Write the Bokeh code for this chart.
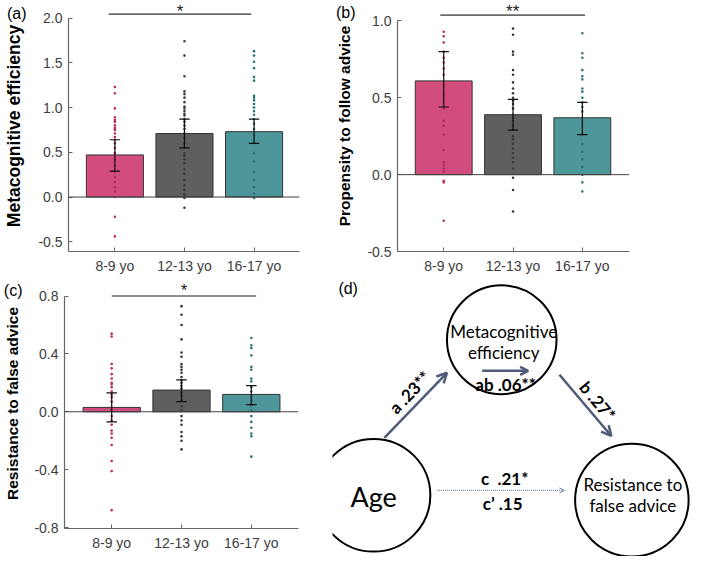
import math
from bokeh.plotting import figure
from bokeh.layouts import row, column
from bokeh.models import (Range1d, FixedTicker, NumeralTickFormatter, Span, Label,
                          Arrow, OpenHead, LinearAxis)
from bokeh.core.properties import value
from bokeh.embed import file_html
from bokeh.resources import INLINE

# ------------------------------------------------------------------ data
categories = ["8-9 yo", "12-13 yo", "16-17 yo"]
bar_colors = ["#d24d7e", "#5f5f5f", "#4d9699"]
dot_colors = ["#b8285e", "#3a3a3a", "#2c7376"]

meta_mean = [0.47, 0.71, 0.73]
meta_lo = [0.29, 0.55, 0.60]
meta_hi = [0.64, 0.87, 0.87]
meta_dots_8_9 = [1.23, 1.16, 0.99, 0.89, 0.86, 0.84, 0.80, 0.77, 0.75, 0.71, 0.67, 0.64,
                 0.60, 0.55, 0.49, 0.42, 0.35, 0.28, 0.22, 0.17, 0.11, 0.06, 0.00, -0.22, -0.44]
meta_dots_12_13 = [1.74, 1.58, 1.35, 1.18, 1.15, 1.11, 1.06, 1.01, 0.99, 0.96, 0.93, 0.91,
                   0.87, 0.84, 0.80, 0.76, 0.71, 0.66, 0.60, 0.55, 0.49, 0.46, 0.42, 0.38,
                   0.31, 0.26, 0.19, 0.13, 0.08, 0.03, -0.01, -0.12]
meta_dots_16_17 = [1.63, 1.58, 1.51, 1.44, 1.34, 1.30, 1.13, 1.11, 1.08, 1.04, 1.00, 0.96,
                   0.92, 0.87, 0.82, 0.76, 0.69, 0.60, 0.49, 0.40, 0.28, 0.19, 0.11, 0.04, -0.01]
meta_ticks = [-0.5, 0.0, 0.5, 1.0, 1.5, 2.0]
meta_sig = "*"

follow_mean = [0.61, 0.39, 0.37]
follow_lo = [0.44, 0.29, 0.26]
follow_hi = [0.80, 0.49, 0.47]
follow_dots_8_9 = [0.93, 0.90, 0.86, 0.80, 0.76, 0.73, 0.69, 0.65, 0.58, 0.52, 0.48, 0.43,
                   0.35, 0.32, 0.26, 0.16, 0.08, 0.06, 0.04, 0.02, -0.04, -0.05, -0.30]
follow_dots_12_13 = [0.95, 0.91, 0.80, 0.78, 0.68, 0.65, 0.60, 0.56, 0.53, 0.50, 0.48, 0.46,
                     0.43, 0.39, 0.37, 0.35, 0.32, 0.29, 0.25, 0.23, 0.20, 0.17, 0.14, 0.11,
                     0.08, 0.04, -0.02, -0.10, -0.24]
follow_dots_16_17 = [0.92, 0.79, 0.76, 0.68, 0.64, 0.62, 0.56, 0.54, 0.50, 0.47, 0.44, 0.41,
                     0.37, 0.32, 0.26, 0.20, 0.15, 0.10, 0.05, 0.00, -0.05, -0.11]
follow_ticks = [-0.5, 0.0, 0.5, 1.0]
follow_sig = "**"

resist_mean = [0.03, 0.15, 0.12]
resist_lo = [-0.07, 0.07, 0.05]
resist_hi = [0.13, 0.22, 0.18]
resist_dots_8_9 = [0.54, 0.52, 0.33, 0.30, 0.26, 0.23, 0.20, 0.19, 0.17, 0.14, 0.12, 0.10,
                   0.07, 0.03, 0.01, -0.03, -0.06, -0.09, -0.13, -0.15, -0.18, -0.23, -0.34,
                   -0.41, -0.68]
resist_dots_12_13 = [0.73, 0.67, 0.60, 0.50, 0.41, 0.38, 0.33, 0.31, 0.29, 0.27, 0.24, 0.22,
                     0.20, 0.18, 0.16, 0.13, 0.11, 0.08, 0.04, 0.01, -0.03, -0.06, -0.09,
                     -0.14, -0.17, -0.20, -0.26]
resist_dots_16_17 = [0.51, 0.46, 0.44, 0.39, 0.31, 0.29, 0.23, 0.21, 0.17, 0.14, 0.11, 0.08,
                     0.04, 0.01, -0.03, -0.07, -0.11, -0.15, -0.17, -0.31]
resist_ticks = [-0.8, -0.4, 0.0, 0.4, 0.8]
resist_sig = "*"

# mediation model (panel d)
node_age = "Age"
node_meta = ["Metacognitive", "efficiency"]
node_resist = ["Resistance to", "false advice"]
path_a = "a .23**"
path_b = "b .27*"
path_ab = "ab .06**"
path_c = "c\u00a0\u00a0.21*"
path_c_prime = "c\u2019 .15"

# ------------------------------------------------------------------ layout helpers
KX = 693 / 709
KY = 556 / 572
COL_SPLIT = 340
ROW_SPLIT = 286
AX_FONT = "Liberation Sans"
DIAG_FONT = "Lato"
CAP = 0.075
BAR_W = 0.82


def px(r):
    return r * KX


def py(r):
    return r * KY


def bar_panel(region, frame, cat_ref, y_ref, means, lo, hi, dots, yticks, ylabel,
              ylabel_size, sig, sig_span, sig_ref_y, star_ref_y, tag, tag_ref_y):
    rx0, ry0, rx1, ry1 = region
    fl, ft, fr, fb = frame
    cat1, step = cat_ref
    zero, unit = y_ref

    def xd(r):
        return 1 + (r - cat1) / step

    def yd(r):
        return (zero - r) / unit

    W = round(px(rx1)) - round(px(rx0))
    H = round(py(ry1)) - round(py(ry0))
    p = figure(width=W, height=H, output_backend="svg", toolbar_location=None,
               x_range=Range1d(xd(fl), xd(fr)), y_range=Range1d(yd(fb), yd(ft)),
               min_border_left=round(px(fl - rx0)), min_border_right=round(px(rx1 - fr)),
               min_border_top=round(py(ft - ry0)), min_border_bottom=round(py(ry1 - fb)))
    p.outline_line_color = None
    p.grid.visible = False

    xs = [i + 1 for i in range(len(categories))]
    p.vbar(x=xs, top=means, bottom=0, width=BAR_W, fill_color=bar_colors,
           line_color="#333333", line_width=1)
    p.add_layout(Span(location=0, dimension="width", line_color="#404040", line_width=1))

    dx, dy, dc = [], [], []
    for i, grp in enumerate(dots):
        for v in grp:
            dx.append(xs[i])
            dy.append(v)
            dc.append(dot_colors[i])
    p.scatter(x=dx, y=dy, size=2.6, marker="circle", fill_color=dc, line_color=None)

    p.segment(x0=xs, y0=lo, x1=xs, y1=hi, line_color="#111111", line_width=1.2)
    p.segment(x0=[x - CAP for x in xs], y0=hi, x1=[x + CAP for x in xs], y1=hi,
              line_color="#111111", line_width=1.2)
    p.segment(x0=[x - CAP for x in xs], y0=lo, x1=[x + CAP for x in xs], y1=lo,
              line_color="#111111", line_width=1.2)

    sy_ = yd(sig_ref_y)
    p.line(x=list(sig_span), y=[sy_, sy_], line_color="#6a6a6a", line_width=1.6)
    p.text(x=[(sig_span[0] + sig_span[1]) / 2], y=[yd(star_ref_y)], text=[sig],
           text_align="center", text_baseline="middle", y_offset=4,
           text_font=value(AX_FONT), text_font_size="17px", text_color="#222222")

    # axes
    p.xaxis.ticker = FixedTicker(ticks=xs)
    p.xaxis.major_label_overrides = {x: c for x, c in zip(xs, categories)}
    p.yaxis.ticker = FixedTicker(ticks=yticks)
    p.yaxis.formatter = NumeralTickFormatter(format="0.0")
    p.yaxis.bounds = (yd(fb), max(yticks))
    for ax in (p.xaxis[0], p.yaxis[0]):
        ax.axis_line_color = "#666666"
        ax.axis_line_width = 1.2
        ax.major_tick_line_color = "#666666"
        ax.major_tick_in = 4
        ax.major_tick_out = 0
        ax.minor_tick_line_color = None
        ax.major_label_text_font = AX_FONT
        ax.major_label_text_font_size = "14px"
        ax.major_label_text_color = "#3d3d3d"
        ax.major_label_standoff = 6
    p.yaxis.major_label_standoff = 6

    # outer left axis: carries the panel tag (as its only tick label) and the axis title
    tag_y = yd(tag_ref_y)
    outer = LinearAxis(ticker=FixedTicker(ticks=[tag_y]),
                       major_label_overrides={tag_y: tag},
                       axis_line_color=None, major_tick_line_color=None,
                       minor_tick_line_color=None,
                       major_label_text_font=AX_FONT, major_label_text_font_size="16px",
                       major_label_text_color="black", major_label_standoff=3,
                       axis_label=ylabel, axis_label_standoff=-20,
                       axis_label_text_font=AX_FONT, axis_label_text_font_style="bold",
                       axis_label_text_font_size=ylabel_size, axis_label_text_color="black")
    p.add_layout(outer, "left")
    return p


pa = bar_panel(region=(0, 0, COL_SPLIT, ROW_SPLIT), frame=(57, 0, 306, 258),
               cat_ref=(107, 75), y_ref=(202, 92),
               means=meta_mean, lo=meta_lo, hi=meta_hi,
               dots=[meta_dots_8_9, meta_dots_12_13, meta_dots_16_17],
               yticks=meta_ticks, ylabel="Metacognitive efficiency", ylabel_size="17.5px",
               sig=meta_sig, sig_span=(0.91, 2.96), sig_ref_y=14, star_ref_y=7,
               tag="(a)", tag_ref_y=13)

pb = bar_panel(region=(COL_SPLIT, 0, 709, ROW_SPLIT), frame=(398, 0, 644, 258),
               cat_ref=(447, 73.5), y_ref=(179, 158),
               means=follow_mean, lo=follow_lo, hi=follow_hi,
               dots=[follow_dots_8_9, follow_dots_12_13, follow_dots_16_17],
               yticks=follow_ticks, ylabel="Propensity to follow advice", ylabel_size="15.5px",
               sig=follow_sig, sig_span=(0.95, 3.04), sig_ref_y=15, star_ref_y=7,
               tag="(b)", tag_ref_y=12)

pc = bar_panel(region=(0, ROW_SPLIT, COL_SPLIT, 572), frame=(57, ROW_SPLIT, 305, 543),
               cat_ref=(107, 74), y_ref=(423, 148.75),
               means=resist_mean, lo=resist_lo, hi=resist_hi,
               dots=[resist_dots_8_9, resist_dots_12_13, resist_dots_16_17],
               yticks=resist_ticks, ylabel="Resistance to false advice", ylabel_size="15.5px",
               sig=resist_sig, sig_span=(1.0, 3.07), sig_ref_y=304, star_ref_y=294,
               tag="(c)", tag_ref_y=298)

# ------------------------------------------------------------------ panel (d)
DX0, DY0, DX1, DY1 = COL_SPLIT, ROW_SPLIT, 709, 572
ARROW_C = "#4f5b77"


def dy_(r):
    return DY1 - r


pd_ = figure(width=693 - round(px(DX0)), height=556 - round(py(DY0)),
             output_backend="svg", toolbar_location=None,
             x_range=Range1d(DX0, DX1), y_range=Range1d(0, DY1 - DY0),
             x_axis_location=None, y_axis_location=None,
             min_border_left=0, min_border_right=0, min_border_top=0, min_border_bottom=0)
pd_.outline_line_color = None
pd_.grid.visible = False

diagram = {
    "centers": [(382, 509), (513, 349), (646, 514)],
    "radii": [58, 56, 58],
}
cx = [c[0] for c in diagram["centers"]]
cy = [dy_(c[1]) for c in diagram["centers"]]
pd_.ellipse(x=cx, y=cy, width=[2 * r for r in diagram["radii"]],
            height=[2 * r for r in diagram["radii"]],
            fill_color=None, line_color="black", line_width=2)

font_n = value(DIAG_FONT)
pd_.text(x=[382], y=[dy_(510)], text=[node_age], text_align="center",
         text_baseline="middle", text_font=font_n, text_font_size="27px", text_color="black")
pd_.text(x=[515, 515], y=[dy_(341), dy_(362)], text=node_meta,
         text_align="center", text_baseline="middle", text_font=font_n,
         text_font_size="17px", text_color="black")
pd_.text(x=[647, 647], y=[dy_(498), dy_(520)], text=node_resist,
         text_align="center", text_baseline="middle", text_font=font_n,
         text_font_size="17px", text_color="black")

# arrows
pd_.add_layout(Arrow(end=OpenHead(size=10, line_color=ARROW_C, line_width=2.5),
                     x_start=393, y_start=dy_(450), x_end=457, y_end=dy_(383),
                     line_color=ARROW_C, line_width=2.5))
pd_.add_layout(Arrow(end=OpenHead(size=10, line_color=ARROW_C, line_width=2.5),
                     x_start=572, y_start=dy_(385), x_end=625, y_end=dy_(448),
                     line_color=ARROW_C, line_width=2.5))
pd_.add_layout(Arrow(end=OpenHead(size=8, line_color=ARROW_C, line_width=2.5),
                     x_start=493, y_start=dy_(381), x_end=540, y_end=dy_(381),
                     line_color=ARROW_C, line_width=2.5))
pd_.add_layout(Arrow(end=OpenHead(size=5, line_color="#6f7fa0", line_width=1),
                     x_start=447, y_start=dy_(504), x_end=577, y_end=dy_(504),
                     line_color="#6f7fa0", line_width=1.2, line_dash="1 1"))

# path labels
bold = dict(text_font=font_n, text_font_style="bold", text_font_size="17px",
            text_color="black")
pd_.text(x=[419], y=[dy_(403)], text=[path_a], angle=math.radians(46),
         text_align="center", text_baseline="middle", **bold)
pd_.text(x=[611], y=[dy_(412)], text=[path_b], angle=math.radians(-50),
         text_align="center", text_baseline="middle", **bold)
pd_.text(x=[517], y=[dy_(395)], text=[path_ab], text_align="center",
         text_baseline="middle", **bold)
pd_.text(x=[516], y=[dy_(503)], text=[path_c], text_align="center",
         text_baseline="bottom", **bold)
pd_.text(x=[514], y=[dy_(507)], text=[path_c_prime], text_align="center",
         text_baseline="top", **bold)

pd_.add_layout(Label(x=356, y=dy_(296), text="(d)", text_align="center",
                     text_baseline="middle", text_font=AX_FONT, text_font_size="16px",
                     text_color="black"))

# wrapping (d) in its own column keeps the row from aligning its frame with (c)
layout = column(row(pa, pb), row(pc, column(pd_)))
open("out.html", "w").write(file_html(layout, INLINE))
